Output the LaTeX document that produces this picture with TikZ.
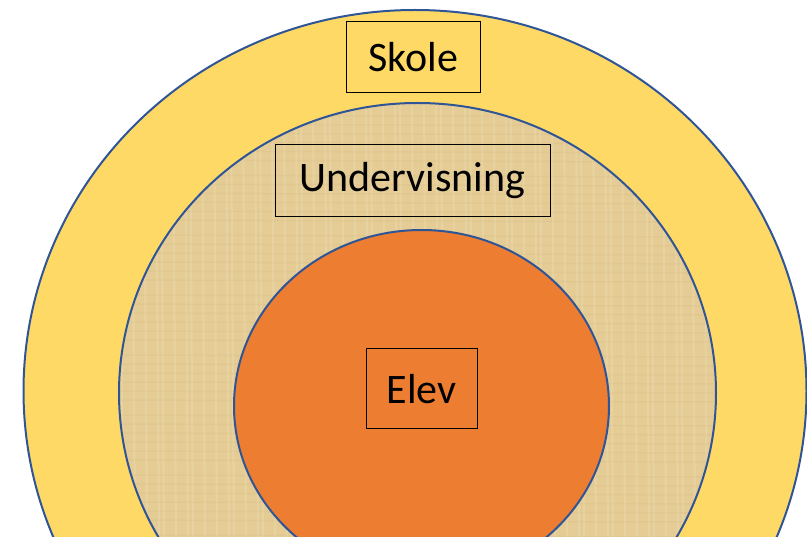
\documentclass[tikz,border=0pt]{standalone}
\usepackage{fontspec}
\setmainfont{Carlito}
\definecolor{skolefill}{HTML}{FFD966}
\definecolor{undfill}{HTML}{E4CC94}
\definecolor{elevfill}{HTML}{ED7D31}
\definecolor{ringline}{HTML}{2F5597}
\tikzset{
  ring/.style={draw=ringline, line width=2pt},
  labelbox/.style={draw=black, line width=1pt, inner sep=0pt, font=\fontsize{42}{46}\selectfont, text=black},
}
\begin{document}
\begin{tikzpicture}[x=1pt,y=-1pt]
\useasboundingbox (0,0) rectangle (807,537);
\clip (0,0) rectangle (807,537);
\fill[white] (0,0) rectangle (807,537);
% outer ring
\draw[ring, fill=skolefill] (415,391) ellipse [x radius=391.5, y radius=381];
% middle ring
\draw[ring, fill=undfill] (417.5,393) ellipse [x radius=298.5, y radius=290];
% faint texture
\begin{scope}
\clip (417.5,393) ellipse [x radius=297, y radius=288.5];
\foreach \i in {0,...,60} {
  \pgfmathsetmacro{\xx}{120+\i*10+mod(\i*37,7)}
  \draw[white, opacity=0.12, line width=2pt] (\xx,100) -- (\xx+3,537);
}
\foreach \i in {0,...,45} {
  \pgfmathsetmacro{\yy}{100+\i*10+mod(\i*53,6)}
  \draw[brown, opacity=0.06, line width=1.5pt] (110,\yy) -- (720,\yy+2);
}
\end{scope}
% inner ring
\draw[ring, fill=elevfill] (421.5,406) ellipse [x radius=187.5, y radius=176];
% labels
\node[labelbox, minimum width=134pt, minimum height=71pt] (skole) at (413.5,57.5) {Skole};
\node[labelbox, minimum width=275pt, minimum height=72pt] (und) at (412.5,181) {Undervisning};
\node[labelbox, minimum width=111pt, minimum height=80pt] (elev) at (421.5,389) {Elev};
\end{tikzpicture}
\end{document}
